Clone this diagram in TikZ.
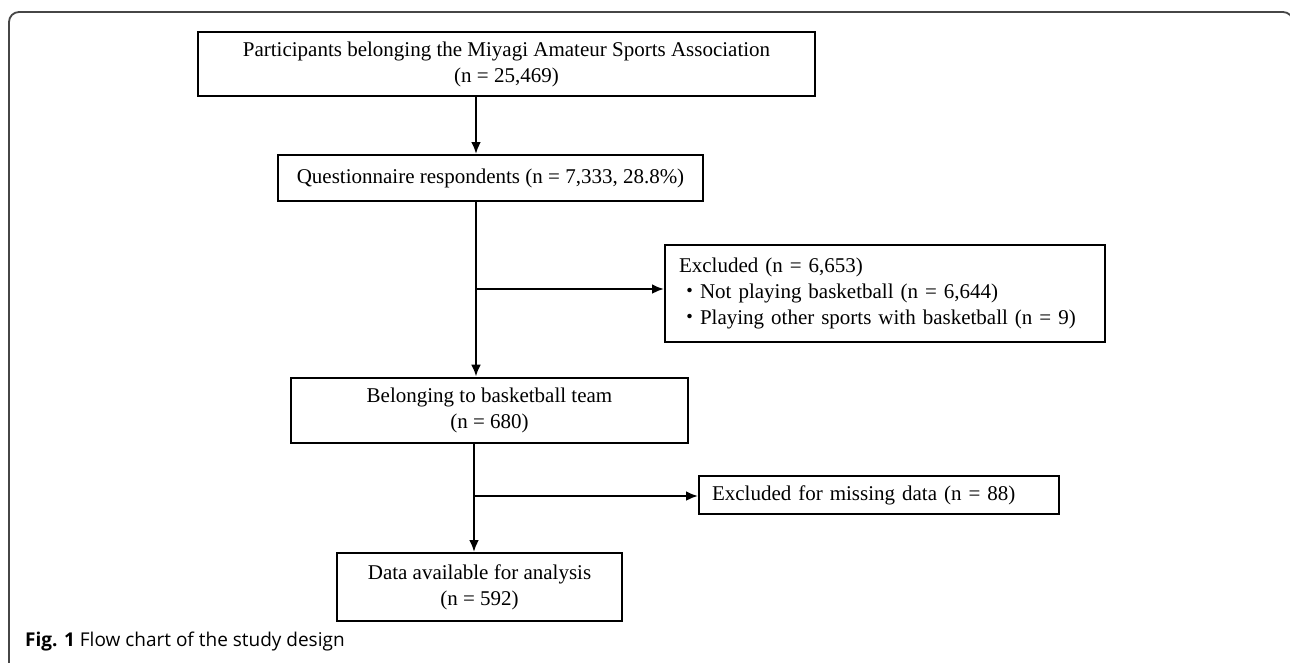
\documentclass[tikz,border=0pt]{standalone}
\usepackage{fontspec}
\usetikzlibrary{arrows.meta}
\setmainfont{Liberation Serif}
\newfontfamily\capfont{Open Sans}
\newfontfamily\cjk{Noto Sans CJK JP}
\begin{document}
\begin{tikzpicture}[x=1pt,y=-1pt,
        box/.style={draw,line width=2pt,inner sep=0pt,align=center,font=\fontsize{21}{26}\selectfont},
        flow/.style={->,>={Latex[length=12pt,width=10pt]},line width=2.6pt}]
                \useasboundingbox (0,0) rectangle (1290,662);
                \fill[white] (0,0) rectangle (1290,662);
                \draw[gray!55!black,line width=1.8pt,rounded corners=10pt] (9,700) -- (9,12) -- (1293,12) -- (1293,700);
                \node[box,minimum width=617pt,minimum height=64pt](PART) at (506.5,64) {Participants belonging the Miyagi Amateur Sports Association\\(n = 25,469)};
                \node[box,minimum width=425pt,minimum height=46pt](QUES) at (490.5,178) {Questionnaire respondents (n = 7,333, 28.8\%)};
                \node[box,align=left,text width=412pt,inner xsep=14pt,minimum height=97pt](EXCL) at (885,293.5) {Excluded (n = 6,653)\\{\cjk ・}Not playing basketball (n = 6,644)\\{\cjk ・}Playing other sports with basketball (n = 9)};
                \node[box,line width=2.8pt,minimum width=397pt,minimum height=65pt](BELO) at (489.5,410.5) {Belonging to basketball team\\(n = 680)};
                \node[box,align=left,text width=334pt,inner xsep=13pt,minimum height=38pt](MISS) at (879,495) {Excluded for missing data (n = 88)};
                \node[box,minimum width=285pt,minimum height=68pt](DATA) at (479.5,587) {Data available for analysis\\(n = 592)};
                \node[anchor=base west,inner sep=0pt,font=\capfont\fontsize{19}{23}\selectfont](CAP) at (25,646) {\textbf{Fig. 1} Flow chart of the study design};
                \coordinate (J1) at (476,289);
                \coordinate (J2) at (474,496);
                \draw[flow] (PART.south -| J1) -- (QUES.north -| J1);
                \draw[flow] (QUES.south -| J1) -- (BELO.north -| J1);
                \draw[flow] (J1) -- (J1 -| EXCL.west);
                \draw[flow] (BELO.south -| J2) -- (DATA.north -| J2);
                \draw[flow] (J2) -- (J2 -| MISS.west);
            \end{tikzpicture}
\end{document}
